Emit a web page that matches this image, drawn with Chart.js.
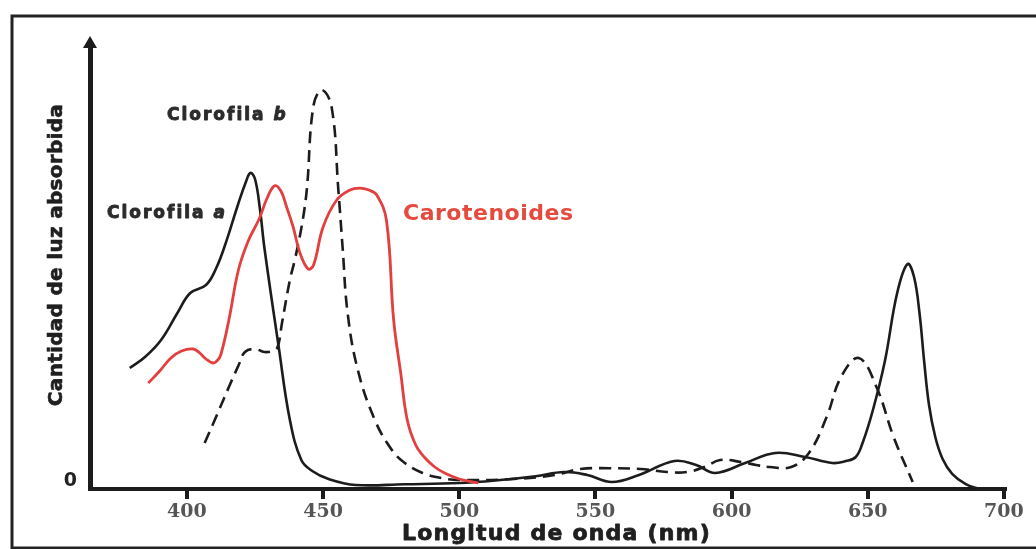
<!DOCTYPE html>
<html>
<head>
<meta charset="utf-8">
<title>Espectro de absorción</title>
<script src="https://cdn.jsdelivr.net/npm/chart.js@4"></script>
<style>
  body { margin: 0; background: #fff; }
  canvas { display: block; }
</style>
</head>
<body>
<canvas id="myChart" width="1036" height="549"></canvas>
<script>
// valores (longitud de onda en nm, absorcion en unidades arbitrarias)
const xTicks = [400, 450, 500, 550, 600, 650, 700];
const yTicks = [0];

const clorofilaA_nm = [379, 384.6, 390.5, 396.5, 401.2, 407, 410.6, 414, 418.7, 421.5, 423.3, 425, 426.8, 428.5, 433.7, 437.8, 442, 446, 452, 462, 480, 500, 515, 528, 538.5, 547, 556, 566, 579, 587, 594, 605, 616, 627, 637, 642, 645.6, 648.1, 651.9, 656.3, 660.8, 664.6, 667, 669, 670.7, 672.5, 674.8, 677.5, 681, 686, 691];
const clorofilaA_abs = [30.25, 33, 37.25, 44, 49, 51, 55, 61, 71, 76.5, 79, 77.5, 70, 60, 35.5, 17.25, 7.25, 4.5, 2.5, 1, 1.2, 1.5, 2.25, 3.2, 4.25, 3.5, 1.75, 3.5, 7, 6, 4, 6.5, 9, 8, 6.5, 7, 8, 11.5, 19.75, 32, 49, 56.25, 53, 44, 32, 21, 13, 7.5, 3.8, 1.2, 0];

const clorofilaB_nm = [406.5, 411, 415.4, 419, 421.3, 425, 428.4, 431.5, 433.3, 434.9, 437.8, 439.6, 442.1, 444, 446.4, 449.5, 453.1, 455.6, 457.2, 459, 462.75, 469, 475.25, 480, 486.5, 493, 500, 520, 535, 544.5, 555, 566.5, 576.3, 583.6, 590, 595.8, 603.5, 609, 614, 621.9, 628.4, 634.9, 640.2, 646.7, 653.2, 659.5, 666.5];
const clorofilaB_abs = [11.5, 18.5, 25.5, 31, 34.25, 35, 34.25, 34.5, 35.5, 41.5, 52.25, 57.25, 65.6, 74.75, 95.6, 99.75, 95.6, 74.75, 60, 44, 29.75, 17.25, 9.75, 6.5, 4, 2.8, 2.25, 2.5, 3.5, 5, 5.2, 5, 4.25, 4.25, 5.5, 7.25, 6.75, 6, 5.5, 5.5, 9, 18, 28, 32.75, 25.5, 13, 1.75];

const carotenoides_nm = [385.8, 390, 394.1, 398, 402.4, 404.7, 407, 409.5, 411, 412.4, 415.4, 418.9, 422.5, 426.5, 429.3, 432.2, 434.5, 436.6, 439, 441.5, 444.5, 446.5, 450, 455, 459.9, 463.5, 466.5, 469.7, 473.3, 475.9, 478.5, 480.9, 484, 487.1, 491, 494.6, 500, 507];
const carotenoides_abs = [26.5, 29.5, 32.75, 34.5, 35, 34, 32.5, 31.5, 32, 33.5, 42.25, 54.75, 62, 67.5, 72.5, 75.8, 74.5, 70.5, 65.5, 59, 55, 56, 65.5, 72.25, 74.75, 75.2, 74.8, 73.5, 67, 42.25, 29, 17.25, 11, 8, 5.5, 4, 2.5, 1.5];

function puntos(xs, ys) {
  return xs.map((x, i) => ({ x: x, y: ys[i] }));
}

const ink = '#1c1c1c';

// texto grueso: relleno + trazo fino del mismo color
function textoGrueso(c, txt, x, y, grosor) {
  c.lineWidth = grosor;
  c.strokeStyle = c.fillStyle;
  c.lineJoin = 'round';
  c.strokeText(txt, x, y);
  c.fillText(txt, x, y);
}

// marco, flecha del eje y, textos
const extras = {
  id: 'extras',
  afterDraw(chart) {
    const c = chart.ctx;
    const area = chart.chartArea;
    c.save();

    // marco de la figura
    c.strokeStyle = '#222';
    c.lineWidth = 3;
    c.beginPath();
    c.moveTo(1040, 16); c.lineTo(12, 16); c.lineTo(12, 548); c.lineTo(1040, 548);
    c.stroke();

    // flecha
    c.fillStyle = ink;
    c.beginPath();
    c.moveTo(area.left, area.top - 9);
    c.lineTo(area.left - 7, area.top + 3);
    c.lineTo(area.left + 7, area.top + 3);
    c.closePath();
    c.fill();

    c.textBaseline = 'alphabetic';
    c.textAlign = 'left';

    // etiquetas de las curvas
    c.fillStyle = '#2b2b2b';
    c.letterSpacing = '2px';
    c.font = 'bold 17px "DejaVu Sans"';
    textoGrueso(c, 'Clorofila ', 167, 120, 0.9);
    let w = c.measureText('Clorofila ').width;
    c.font = 'italic bold 17px "DejaVu Sans"';
    textoGrueso(c, 'b', 167 + w, 120, 0.9);

    c.font = 'bold 17px "DejaVu Sans"';
    textoGrueso(c, 'Clorofila ', 107, 218, 0.9);
    w = c.measureText('Clorofila ').width;
    c.font = 'italic bold 17px "DejaVu Sans"';
    textoGrueso(c, 'a', 107 + w, 218, 0.9);

    c.fillStyle = '#e44a3e';
    c.letterSpacing = '0.5px';
    c.font = 'bold 22px "DejaVu Sans"';
    c.fillText('Carotenoides', 403, 220);

    // titulos de los ejes
    c.fillStyle = '#1f1f1f';
    c.letterSpacing = '1.2px';
    c.font = 'bold 22px "DejaVu Sans"';
    textoGrueso(c, 'Longitud de onda (nm)', 402, 540, 0.8);

    c.letterSpacing = '0.3px';
    c.font = 'bold 20px "DejaVu Sans"';
    c.translate(62, 255);
    c.rotate(-Math.PI / 2);
    c.textAlign = 'center';
    textoGrueso(c, 'Cantidad de luz absorbida', 0, 0, 0.6);

    c.restore();
  }
};

new Chart(document.getElementById('myChart'), {
  type: 'line',
  data: {
    datasets: [
      {
        label: 'Carotenoides',
        data: puntos(carotenoides_nm, carotenoides_abs),
        borderColor: '#e23f3e',
        borderWidth: 2.8
      },
      {
        label: 'Clorofila a',
        data: puntos(clorofilaA_nm, clorofilaA_abs),
        borderColor: ink,
        borderWidth: 2.6
      },
      {
        label: 'Clorofila b',
        data: puntos(clorofilaB_nm, clorofilaB_abs),
        borderColor: ink,
        borderWidth: 2.6,
        borderDash: [12, 7]
      }
    ]
  },
  options: {
    responsive: false,
    animation: false,
    events: [],
    datasets: {
      line: { pointRadius: 0, fill: false, tension: 0.4 }
    },
    layout: { padding: { left: 0, right: 31, top: 45, bottom: 0 } },
    plugins: {
      legend: { display: false },
      tooltip: { enabled: false }
    },
    scales: {
      x: {
        type: 'linear',
        min: 364.4,
        max: 700.4,
        afterBuildTicks: s => { s.ticks = xTicks.map(v => ({ value: v })); },
        afterFit: s => { s.height = 60; },
        grid: { display: true, drawOnChartArea: false, drawTicks: true, tickLength: 10, lineWidth: 4, color: ink },
        border: { display: true, width: 4, color: ink },
        ticks: {
          autoSkip: false,
          maxRotation: 0,
          padding: 2,
          color: '#555',
          font: { family: 'DejaVu Serif', weight: 'bold', size: 19 }
        }
      },
      y: {
        min: 0,
        max: 111,
        afterBuildTicks: s => { s.ticks = yTicks.map(v => ({ value: v })); },
        afterFit: s => { s.width = 90; },
        grid: { display: false, drawTicks: false },
        border: { display: true, width: 5, color: ink },
        ticks: {
          padding: 13,
          labelOffset: -8,
          color: '#222',
          font: { family: 'DejaVu Sans', weight: 'bold', size: 19 }
        }
      }
    }
  },
  plugins: [extras]
});
</script>
</body>
</html>
